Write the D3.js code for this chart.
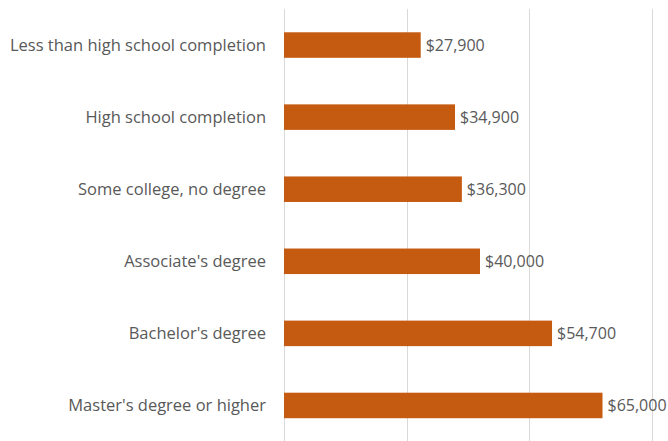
<!DOCTYPE html>
<html><head><meta charset="utf-8">
<script src="https://cdn.jsdelivr.net/npm/d3@7"></script>
<style>body{margin:0;background:#fff}svg{display:block}</style>
</head><body><svg id="c" width="668" height="441"></svg>
<script>
const categories = ["Less than high school completion","High school completion","Some college, no degree","Associate's degree","Bachelor's degree","Master's degree or higher"];
const values = [27900, 34900, 36300, 40000, 54700, 65000];
const ticks = [0, 25000, 50000, 75000];

const svg = d3.select("#c");
const x = d3.scaleLinear().domain([0, 75000]).range([284, 651.5]);
const y = d3.scaleBand().domain(categories).range([9, 441.5]).paddingInner(0.646).paddingOuter(0.323);
const font = "'Open Sans', sans-serif";

svg.append("g").selectAll("line").data(ticks).join("line")
  .attr("x1", d => Math.round(x(d)) + 0.5).attr("x2", d => Math.round(x(d)) + 0.5)
  .attr("y1", 9).attr("y2", 441)
  .attr("stroke", "#d9d9d9").attr("stroke-width", 1);

svg.append("g").selectAll("rect").data(values).join("rect")
  .attr("x", x(0)).attr("y", (d, i) => y(categories[i]))
  .attr("width", d => x(d) - x(0)).attr("height", y.bandwidth())
  .attr("fill", "#C55A11");

svg.append("g").selectAll("text").data(values).join("text")
  .attr("x", d => x(d) + 5).attr("y", (d, i) => y(categories[i]) + y.bandwidth() / 2)
  .attr("dy", "0.35em").attr("fill", "#595959")
  .style("font-family", font).style("font-size", "16px")
  .text(d => "$" + d3.format(",")(d));

svg.append("g").selectAll("text").data(categories).join("text")
  .attr("x", 266).attr("y", d => y(d) + y.bandwidth() / 2)
  .attr("dy", "0.35em").attr("text-anchor", "end").attr("fill", "#595959")
  .style("font-family", font).style("font-size", "16.5px")
  .text(d => d);
</script></body></html>
